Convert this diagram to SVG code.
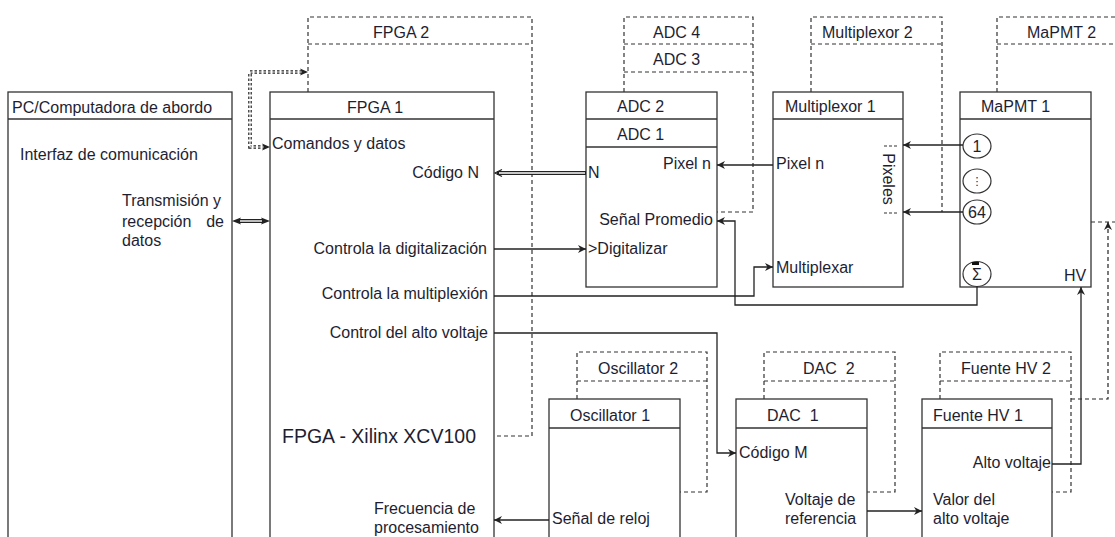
<svg xmlns="http://www.w3.org/2000/svg" width="1115" height="537" viewBox="0 0 1115 537">
<defs>
<style>
.t{font-family:"Liberation Sans",Arial,sans-serif;font-size:16px;fill:#1e1e32}
.e{text-anchor:end}
.m{text-anchor:middle}
.pre{white-space:pre}
.box{fill:#fff;stroke:#333;stroke-width:1.3}
.hd{stroke:#333;stroke-width:1.3;fill:none}
.db{fill:none;stroke:#333;stroke-width:1.2;stroke-dasharray:4 3}
.c{fill:none;stroke:#222;stroke-width:1.3}
.cd{fill:none;stroke:#222;stroke-width:1.2;stroke-dasharray:4 3}
.circ{fill:#fff;stroke:#333;stroke-width:1.2}
.ah{fill:#222}
</style>
<marker id="ah" viewBox="0 0 10 10" refX="10" refY="5" markerWidth="10" markerHeight="8" markerUnits="userSpaceOnUse" orient="auto-start-reverse"><path d="M0,0 L10,5 L0,10 L3,5 z" fill="#222"/></marker>
</defs>
<rect width="1115" height="537" fill="#fff"/>

<!-- dashed back boxes -->
<g id="fpga2">
<path class="db" d="M308,92 V17 H532 V436 H494"/>
<line class="db" x1="308" y1="44" x2="532" y2="44"/>
<text class="t" x="373" y="38">FPGA 2</text>
</g>
<g id="adc4">
<path class="db" d="M624,92 V17 H753 V212 H717"/>
<line class="db" x1="624" y1="44" x2="753" y2="44"/>
<line class="db" x1="624" y1="72" x2="753" y2="72"/>
<text class="t" x="653" y="38">ADC 4</text>
<text class="t" x="653" y="65">ADC 3</text>
</g>
<g id="mux2">
<path class="db" d="M811,92 V17 H942 V212"/>
<line class="db" x1="811" y1="44" x2="942" y2="44"/>
<text class="t" x="822" y="38">Multiplexor 2</text>
</g>
<g id="mapmt2">
<path class="db" d="M997,92 V17 H1115"/>
<line class="db" x1="997" y1="44" x2="1115" y2="44"/>
<line class="db" x1="1091" y1="222" x2="1115" y2="222"/>
<text class="t" x="1027" y="38">MaPMT 2</text>
</g>
<g id="osc2">
<path class="db" d="M577,399 V352 H707 V492 H680"/>
<line class="db" x1="577" y1="381" x2="707" y2="381"/>
<text class="t" x="598" y="374">Oscillator 2</text>
</g>
<g id="dac2">
<path class="db" d="M764,399 V352 H895 V492 H867"/>
<line class="db" x1="764" y1="381" x2="895" y2="381"/>
<text class="t pre" x="803" y="374">DAC  2</text>
</g>
<g id="fhv2">
<path class="db" d="M940,399 V352 H1071 V492 H1052"/>
<line class="db" x1="940" y1="381" x2="1071" y2="381"/>
<text class="t" x="961" y="374">Fuente HV 2</text>
</g>

<!-- main boxes -->
<g id="pc">
<rect class="box" x="8" y="92" width="224" height="460"/>
<line class="hd" x1="8" y1="119" x2="232" y2="119"/>
<text class="t" x="12" y="113">PC/Computadora de abordo</text>
<text class="t" x="20" y="160">Interfaz de comunicación</text>
<text class="t" x="122" y="206">Transmisión y</text>
<text class="t" x="122" y="227">recepción</text>
<text class="t e" x="224" y="227">de</text>
<text class="t" x="122" y="246">datos</text>
</g>
<g id="fpga1">
<rect class="box" x="270" y="92" width="224" height="460"/>
<line class="hd" x1="270" y1="119" x2="494" y2="119"/>
<text class="t" x="347" y="113">FPGA 1</text>
<text class="t" x="272" y="149">Comandos y datos</text>
<text class="t e" x="479" y="178">Código N</text>
<text class="t e" x="487" y="254">Controla la digitalización</text>
<text class="t e" x="488" y="299">Controla la multiplexión</text>
<text class="t e" x="488" y="338">Control del alto voltaje</text>
<text class="t" x="282" y="443" style="font-size:19.5px">FPGA - Xilinx XCV100</text>
<text class="t" x="374" y="514">Frecuencia de</text>
<text class="t" x="374" y="533">procesamiento</text>
</g>
<g id="adc1">
<rect class="box" x="586" y="92" width="131" height="195"/>
<line class="hd" x1="586" y1="119" x2="717" y2="119"/>
<line class="hd" x1="586" y1="147" x2="717" y2="147"/>
<text class="t" x="617" y="112">ADC 2</text>
<text class="t" x="617" y="140">ADC 1</text>
<text class="t e" x="711" y="169">Pixel n</text>
<text class="t" x="588" y="178">N</text>
<text class="t e" x="713" y="225">Señal Promedio</text>
<text class="t" x="588" y="254">&gt;Digitalizar</text>
</g>
<g id="mux1">
<rect class="box" x="773" y="92" width="130" height="195"/>
<line class="hd" x1="773" y1="119" x2="903" y2="119"/>
<text class="t" x="785" y="112">Multiplexor 1</text>
<text class="t" x="776" y="169">Pixel n</text>
<text class="t" x="776" y="273">Multiplexar</text>
<text class="t m" transform="translate(888,179) rotate(90)" y="5">Pixeles</text>
<line x1="884" y1="146" x2="897" y2="146" stroke="#333" stroke-width="1.2" stroke-dasharray="3 2"/>
<line x1="884" y1="213" x2="897" y2="213" stroke="#333" stroke-width="1.2" stroke-dasharray="3 2"/>
</g>
<g id="mapmt1">
<rect class="box" x="960" y="92" width="131" height="195"/>
<line class="hd" x1="960" y1="119" x2="1091" y2="119"/>
<text class="t" x="981" y="112">MaPMT 1</text>
<ellipse class="circ" cx="977" cy="146" rx="14" ry="12"/>
<text class="t m" x="977" y="152">1</text>
<ellipse class="circ" cx="977" cy="181" rx="14" ry="12"/>
<text class="t m" x="977" y="185" style="font-family:'DejaVu Sans',sans-serif;font-size:11px">⋮</text>
<ellipse class="circ" cx="977" cy="212" rx="14" ry="12"/>
<text class="t m" x="977" y="218">64</text>
<ellipse class="circ" cx="977" cy="274" rx="14" ry="12.5"/>
<text class="t m" x="977" y="280">Σ</text>
<rect x="972" y="262" width="7" height="3" fill="#111"/>
<text class="t" x="1064" y="281">HV</text>
</g>
<g id="osc1">
<rect class="box" x="549" y="399" width="131" height="150"/>
<line class="hd" x1="549" y1="428" x2="680" y2="428"/>
<text class="t" x="570" y="421">Oscillator 1</text>
<text class="t" x="552" y="524">Señal de reloj</text>
</g>
<g id="dac1">
<rect class="box" x="736" y="399" width="131" height="150"/>
<line class="hd" x1="736" y1="428" x2="867" y2="428"/>
<text class="t pre" x="767" y="421">DAC  1</text>
<text class="t" x="739" y="458">Código M</text>
<text class="t" x="785" y="505">Voltaje de</text>
<text class="t" x="785" y="524">referencia</text>
</g>
<g id="fhv1">
<rect class="box" x="922" y="399" width="130" height="150"/>
<line class="hd" x1="922" y1="428" x2="1052" y2="428"/>
<text class="t" x="933" y="421">Fuente HV 1</text>
<text class="t e" x="1051" y="468">Alto voltaje</text>
<text class="t" x="933" y="505">Valor del</text>
<text class="t" x="933" y="524">alto voltaje</text>
</g>

<!-- connectors -->
<g id="connectors">
<!-- PC <-> FPGA double line -->
<line x1="238" y1="221" x2="264" y2="221" stroke="#222" stroke-width="4"/>
<line x1="240" y1="221" x2="262" y2="221" stroke="#fff" stroke-width="1.4"/>
<path class="ah" d="M232,221 L241,217.5 L239,221 L241,224.5 z"/>
<path class="ah" d="M270,221 L261,217.5 L263,221 L261,224.5 z"/>
<!-- dotted double arrow -->
<path d="M302,72 H250 V147 H265" fill="none" stroke="#222" stroke-width="3.6" stroke-dasharray="2.5 2"/>
<path d="M302,72 H250 V147 H265" fill="none" stroke="#fff" stroke-width="1.2"/>
<path class="ah" d="M308,72 L300,68.5 L302,72 L300,75.5 z"/>
<path class="ah" d="M270,147 L262,143.5 L264,147 L262,150.5 z"/>
<!-- Codigo N double -->
<line x1="497" y1="173" x2="586" y2="173" stroke="#222" stroke-width="4"/>
<line x1="499" y1="173" x2="585" y2="173" stroke="#fff" stroke-width="1.5"/>
<polyline points="502,169.5 495,173 502,176.5" fill="none" stroke="#222" stroke-width="1.2"/>
<path class="c" d="M494,249 H586" marker-end="url(#ah)"/>
<path class="c" d="M773,165 H717" marker-end="url(#ah)"/>
<path class="c" d="M977,286.5 V305 H735 V221 H717" marker-end="url(#ah)"/>
<path class="c" d="M494,296 H754 V267 H773" marker-end="url(#ah)"/>
<path class="c" d="M494,333 H717 V453 H736" marker-end="url(#ah)"/>
<path class="c" d="M963,145 H903" marker-end="url(#ah)"/>
<path class="c" d="M963,212 H903" marker-end="url(#ah)"/>
<path class="c" d="M549,520 H494" marker-end="url(#ah)"/>
<path class="c" d="M867,511 H922" marker-end="url(#ah)"/>
<path class="c" d="M1052,464 H1081 V287" marker-end="url(#ah)"/>
<path class="cd" d="M1071,399 H1108 V222" marker-end="url(#ah)"/>
</g>
</svg>
